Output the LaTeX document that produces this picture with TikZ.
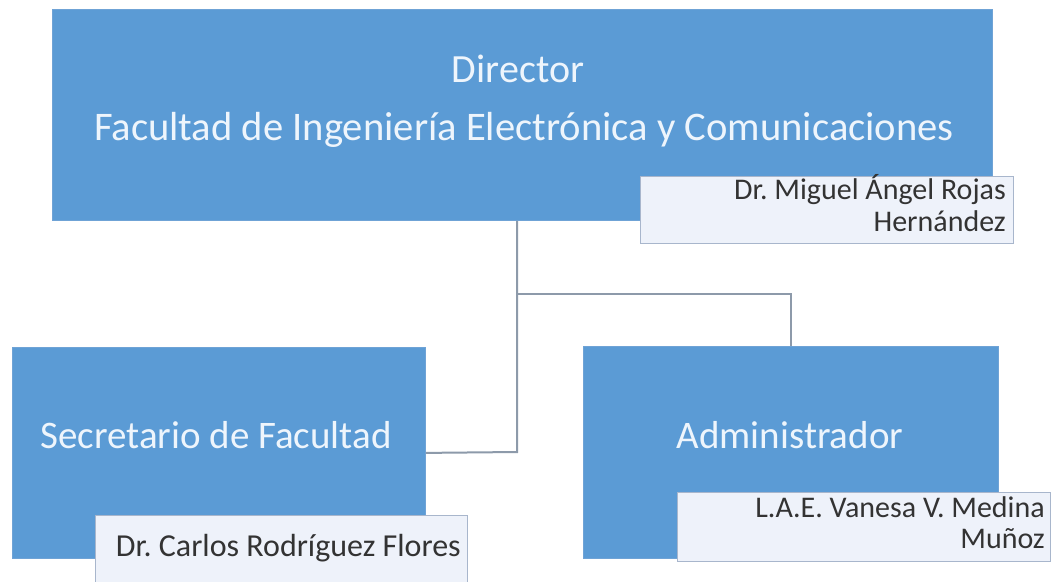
\documentclass[tikz,border=0pt]{standalone}
\usepackage{fontspec}
\setmainfont{Carlito}
\frenchspacing
\definecolor{boxblue}{HTML}{5B9BD5}
\definecolor{boxedge}{HTML}{6FA3D6}
\definecolor{namefill}{HTML}{EEF2FA}
\definecolor{nameedge}{HTML}{A8B6CC}
\definecolor{linegray}{HTML}{8D9AAA}
\definecolor{titletext}{HTML}{EEF5FC}
\definecolor{nametext}{HTML}{333333}
\begin{document}
\begin{tikzpicture}[x=1pt,y=-1pt,
  rolebox/.style={draw=boxedge,fill=boxblue,line width=0.8pt,anchor=north west,inner sep=0pt,text=titletext},
  namebox/.style={draw=nameedge,fill=namefill,line width=1pt,anchor=north west,inner sep=0pt},
  titlelabel/.style={text=titletext,font=\fontsize{40}{57}\selectfont,inner sep=0pt,anchor=base},
  namelabel/.style={text=nametext,font=\fontsize{30}{32}\selectfont,inner sep=0pt,anchor=base east},
  conn/.style={draw=linegray,line width=2pt}]
\useasboundingbox[fill=white] (0,0) rectangle (1051,581);
% role boxes
\node[rolebox,minimum width=940pt,minimum height=211pt] (dir) at (52,9) {};
\node[rolebox,minimum width=413pt,minimum height=211pt] (sec) at (12,347) {};
\node[rolebox,minimum width=415pt,minimum height=212pt] (adm) at (583,346) {};
% titles
\node[titlelabel] (dirt) at (518,82) {Director};
\node[titlelabel,font=\fontsize{40.6}{57}\selectfont] (dirt2) at (524,140) {Facultad de Ingeniería Electrónica y Comunicaciones};
\node[titlelabel,font=\fontsize{39}{45}\selectfont] (sect) at (216,448) {Secretario de Facultad};
\node[titlelabel,font=\fontsize{39}{45}\selectfont] (admt) at (790,448) {Administrador};
% connectors
\coordinate (j1) at (517,294);
\coordinate (j2) at (517,452);
\draw[conn] (dir.south -| j1) -- (j2) -- (sec.east);
\draw[conn] (j1) -| (adm.north);
% name boxes
\node[namebox,minimum width=373pt,minimum height=67pt] (dirn) at (640,176) {};
\node[namebox,minimum width=372pt,minimum height=70pt] (secn) at (95,515) {};
\node[namebox,minimum width=373pt,minimum height=69pt] (admn) at (677,492) {};
\node[namelabel] (dirnt1) at (1006,199) {Dr. Miguel Ángel Rojas};
\node[namelabel] (dirnt2) at (1006,231) {Hernández};
\node[namelabel,font=\fontsize{32}{36}\selectfont] (secnt) at (461,556) {Dr. Carlos Rodríguez Flores};
\node[namelabel] (admnt1) at (1045,517) {L.A.E. Vanesa V. Medina};
\node[namelabel] (admnt2) at (1045,548) {Muñoz};
\end{tikzpicture}
\end{document}
